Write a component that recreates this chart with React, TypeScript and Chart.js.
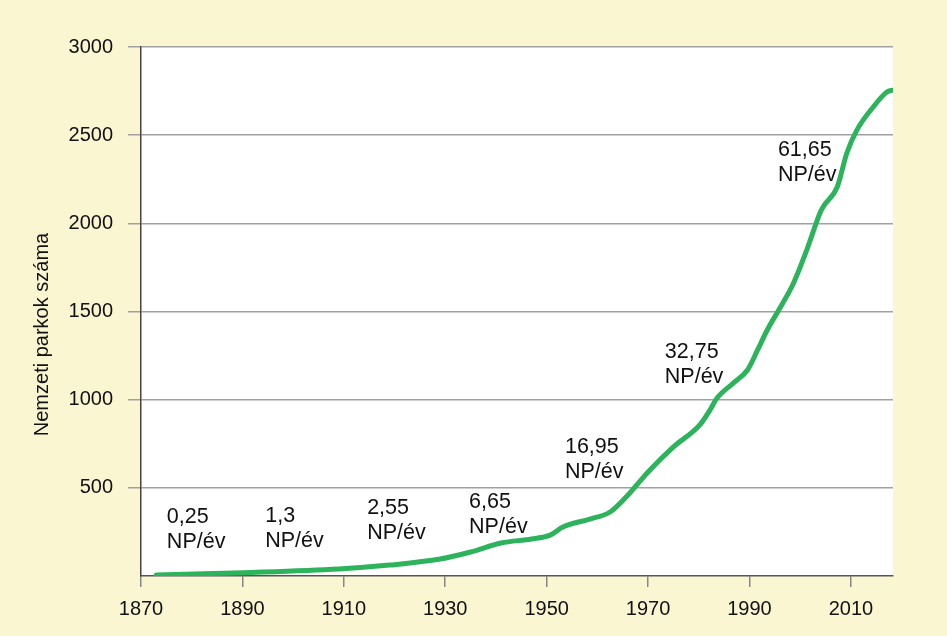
import React, { useEffect, useRef } from "react";
import { Chart, registerables } from "chart.js";

Chart.register(...registerables);

const years = [1873, 1890, 1909, 1919, 1929, 1935, 1941, 1947, 1950.7, 1953.2, 1958.5, 1962.5, 1966.4, 1970, 1975, 1980.2, 1982.2, 1983.6, 1986.8, 1989.6, 1991.6, 1993.5, 1996, 1998.6, 2001.3, 2003.9, 2004.5, 2007.3, 2009.2, 2011.2, 2014.4, 2017.1, 2018.3];
const parks = [5, 19, 40, 62, 96, 136, 187, 210, 232, 278, 323, 363, 471, 590, 732, 857, 941, 1009, 1094, 1168, 1282, 1395, 1520, 1656, 1849, 2059, 2093, 2206, 2399, 2530, 2660, 2745, 2756];

const xTicks = [1870, 1890, 1910, 1930, 1950, 1970, 1990, 2010];
const yTicks = [500, 1000, 1500, 2000, 2500, 3000];

const rateLabels = ["0,25", "1,3", "2,55", "6,65", "16,95", "32,75", "61,65"];
const rateUnit = "NP/év";
const rateYears = [1875.1, 1894.5, 1914.6, 1934.7, 1953.6, 1973.3, 1995.6];
const rateValues = [300, 306, 352, 386, 698, 1236, 2382];

const yTitle = "Nemzeti parkok száma";

const FONT = "'Liberation Sans', Arial, Helvetica, sans-serif";

export default function App() {
  const ref = useRef<HTMLCanvasElement | null>(null);

  useEffect(() => {
    if (!ref.current) return;
    const bgPlugin = {
      id: "bgPlugin",
      beforeDraw(chart: any) {
        const { ctx, chartArea } = chart;
        ctx.save();
        ctx.fillStyle = "#ffffff";
        ctx.fillRect(chartArea.left, chartArea.top, chartArea.right - chartArea.left, chartArea.bottom - chartArea.top);
        ctx.restore();
      },
      afterDraw(chart: any) {
        const { ctx } = chart;
        const xs = chart.scales.x;
        const ys = chart.scales.y;
        ctx.save();
        ctx.fillStyle = "#111111";
        ctx.font = `21.5px ${FONT}`;
        ctx.textAlign = "left";
        ctx.textBaseline = "alphabetic";
        rateLabels.forEach((t, i) => {
          const px = xs.getPixelForValue(rateYears[i]);
          const py = ys.getPixelForValue(rateValues[i]);
          ctx.fillText(t, px, py);
          ctx.fillText(rateUnit, px, py + 25);
        });
        ctx.font = `20px ${FONT}`;
        ctx.translate(42, (chart.chartArea.top + chart.chartArea.bottom) / 2 + 23);
        ctx.rotate(-Math.PI / 2);
        ctx.textAlign = "center";
        ctx.textBaseline = "middle";
        ctx.fillText(yTitle, 0, 0);
        ctx.restore();
      },
    };

    const chart = new Chart(ref.current, {
      type: "line",
      data: {
        datasets: [
          {
            data: years.map((y, i) => ({ x: y, y: parks[i] })),
            borderColor: "#2db35b",
            borderWidth: 5,
            pointRadius: 0,
            fill: false,
            cubicInterpolationMode: "monotone",
            borderCapStyle: "round",
            borderJoinStyle: "round",
          } as any,
        ],
      },
      options: {
        animation: false,
        responsive: false,
        maintainAspectRatio: false,
        layout: { padding: { left: 0, right: 54, top: 47, bottom: 0 } },
        plugins: { legend: { display: false }, tooltip: { enabled: false } },
        scales: {
          x: {
            type: "linear",
            min: 1870,
            max: 2018.3,
            afterBuildTicks: (scale: any) => {
              scale.ticks = xTicks.map((v) => ({ value: v }));
            },
            afterFit: (scale: any) => {
              scale.height = 60;
            },
            grid: {
              drawOnChartArea: false,
              drawTicks: true,
              tickLength: 11,
              color: "#888888",
              lineWidth: 1.5,
            },
            border: { display: true, color: "#555555", width: 1.5 },
            ticks: {
              color: "#111111",
              font: { family: FONT, size: 20 },
              padding: 10,
              maxRotation: 0,
              autoSkip: false,
              callback: (v: any) => String(v),
            },
          },
          y: {
            type: "linear",
            min: 0,
            max: 3000,
            afterBuildTicks: (scale: any) => {
              scale.ticks = yTicks.map((v) => ({ value: v }));
            },
            afterFit: (scale: any) => {
              scale.width = 141;
            },
            grid: {
              drawOnChartArea: true,
              drawTicks: true,
              tickLength: 13,
              color: "#a0a0a0",
              lineWidth: 1.5,
            },
            border: { display: true, color: "#444444", width: 1.5 },
            ticks: {
              color: "#111111",
              font: { family: FONT, size: 20 },
              padding: 15,
              autoSkip: false,
              callback: (v: any) => String(v),
            },
          },
        },
      },
      plugins: [bgPlugin],
    });
    return () => chart.destroy();
  }, []);

  return (
    <div style={{ position: "fixed", left: 0, top: 0, width: 947, height: 636, background: "#faf6d2" }}>
      <canvas ref={ref} width={947} height={636} style={{ display: "block", width: 947, height: 636 }} />
    </div>
  );
}
